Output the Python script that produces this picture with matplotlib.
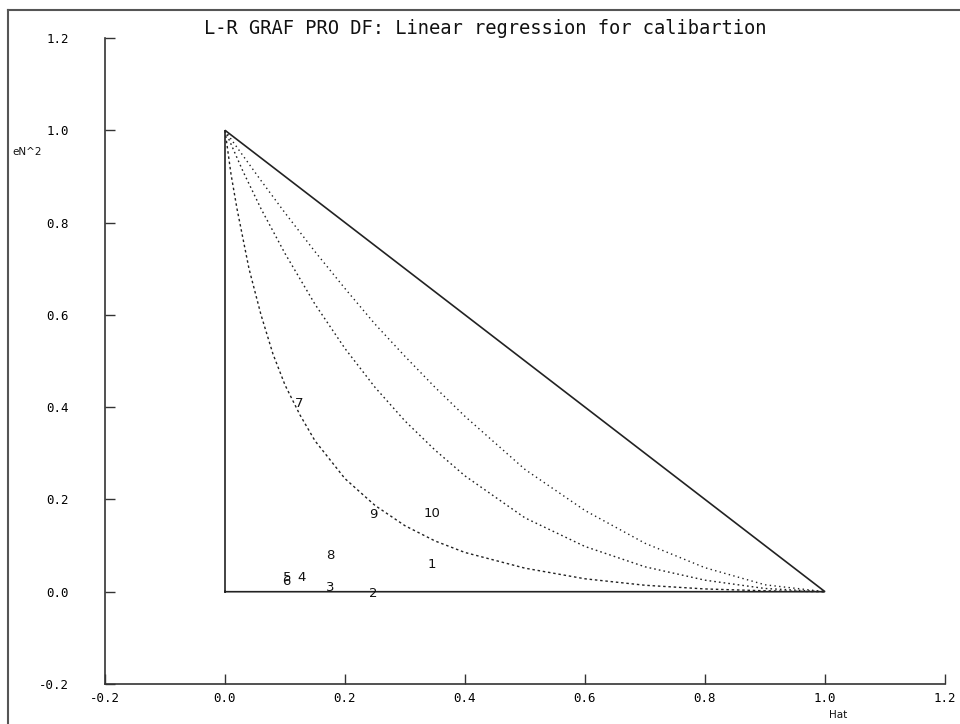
import matplotlib
matplotlib.use("Agg")
import matplotlib.pyplot as plt
from matplotlib.lines import Line2D

# ---- data ----
point_ids = ["1", "2", "3", "4", "5", "6", "7", "8", "9", "10"]
hat_vals = [0.345, 0.247, 0.175, 0.127, 0.103, 0.103, 0.123, 0.175, 0.247, 0.345]
en2_vals = [0.058, -0.003, 0.009, 0.030, 0.031, 0.023, 0.408, 0.078, 0.167, 0.169]

curve_a_x = [0.0, 0.01, 0.02, 0.04, 0.06, 0.08, 0.10, 0.125, 0.15, 0.20, 0.25, 0.30,
             0.35, 0.40, 0.50, 0.60, 0.70, 0.80, 0.90, 1.0]
curve_a_y = [1.0, 0.905, 0.83, 0.70, 0.60, 0.515, 0.448, 0.383, 0.327, 0.245, 0.187, 0.143,
             0.110, 0.085, 0.051, 0.028, 0.014, 0.006, 0.002, 0.0]

curve_b_x = [0.0, 0.01, 0.03, 0.06, 0.10, 0.15, 0.20, 0.25, 0.30, 0.35, 0.40, 0.50,
             0.60, 0.70, 0.80, 0.90, 1.0]
curve_b_y = [1.0, 0.970, 0.911, 0.830, 0.733, 0.623, 0.527, 0.443, 0.370, 0.307, 0.251, 0.160,
             0.098, 0.054, 0.025, 0.007, 0.0]

curve_c_x = [0.0, 0.01, 0.03, 0.06, 0.10, 0.15, 0.20, 0.25, 0.30, 0.35, 0.40, 0.50,
             0.60, 0.70, 0.80, 0.90, 1.0]
curve_c_y = [1.0, 0.981, 0.945, 0.891, 0.821, 0.737, 0.657, 0.580, 0.510, 0.443, 0.380, 0.265,
             0.176, 0.105, 0.052, 0.015, 0.0]

tri_x = [0.0, 0.0, 1.0, 0.0]
tri_y = [0.0, 1.0, 0.0, 0.0]

x_ticks = [-0.2, 0.0, 0.2, 0.4, 0.6, 0.8, 1.0, 1.2]
y_ticks = [-0.2, 0.0, 0.2, 0.4, 0.6, 0.8, 1.0, 1.2]
x_ticklabels = ["-0.2", "0.0", "0.2", "0.4", "0.6", "0.8", "1.0", "1.2"]
y_ticklabels = ["-0.2", "0.0", "0.2", "0.4", "0.6", "0.8", "1.0", "1.2"]

title_text = "L-R GRAF PRO DF: Linear regression for calibartion"
x_label = "Hat"
y_label = "eN^2"

# ---- figure ----
W, H = 960, 724
fig = plt.figure(figsize=(W / 100, H / 100), dpi=100)
fig.patch.set_facecolor("white")

# window frame (left and top edges)
fig.add_artist(Line2D([8 / W, 8 / W], [0, 1 - 10 / H], transform=fig.transFigure,
                      color="#555555", lw=1.5))
fig.add_artist(Line2D([8 / W, 1], [1 - 10 / H, 1 - 10 / H], transform=fig.transFigure,
                      color="#555555", lw=1.5))

ax = fig.add_axes([105 / W, 1 - 684 / H, (945 - 105) / W, (684 - 38) / H])
ax.set_xlim(-0.2, 1.2)
ax.set_ylim(-0.2, 1.2)
for s in ["top", "right"]:
    ax.spines[s].set_visible(False)
for s in ["left", "bottom"]:
    ax.spines[s].set_color("#333333")
    ax.spines[s].set_linewidth(1.2)

mono = "DejaVu Sans Mono"
ax.set_xticks(x_ticks)
ax.set_xticklabels(x_ticklabels, fontsize=9, family=mono)
ax.set_yticks(y_ticks)
ax.set_yticklabels(y_ticklabels, fontsize=9, family=mono)
ax.tick_params(axis="both", direction="in", length=7, width=1, color="#333333")
ax.tick_params(axis="x", pad=6)
ax.tick_params(axis="y", pad=26)

# triangle
ax.plot(tri_x, tri_y, color="#222222", lw=1.2, solid_joinstyle="miter")

# curves
ax.plot(curve_a_x, curve_a_y, color="#222222", lw=1.0, linestyle=(0, (1.8, 2.0)))
ax.plot(curve_b_x, curve_b_y, color="#222222", lw=1.0, linestyle=(0, (1.2, 2.2)))
ax.plot(curve_c_x, curve_c_y, color="#222222", lw=1.0, linestyle=(0, (1.0, 2.4)))

# point labels
for lab, hx, ey in zip(point_ids, hat_vals, en2_vals):
    ax.text(hx, ey, lab, ha="center", va="center", fontsize=9.5, color="#111111",
            family="DejaVu Sans")

# title and axis labels
fig.text(485 / W, 1 - 28 / H, title_text, ha="center", va="center", fontsize=13.5,
         family=mono, color="#111111")
fig.text(27 / W, 1 - 152 / H, y_label, ha="center", va="center", fontsize=7.5,
         family="DejaVu Sans", color="#111111")
fig.text(838 / W, 1 - 715 / H, x_label, ha="center", va="center", fontsize=7.5,
         family="DejaVu Sans", color="#111111")

fig.savefig("out.png", dpi=100, facecolor="white")
